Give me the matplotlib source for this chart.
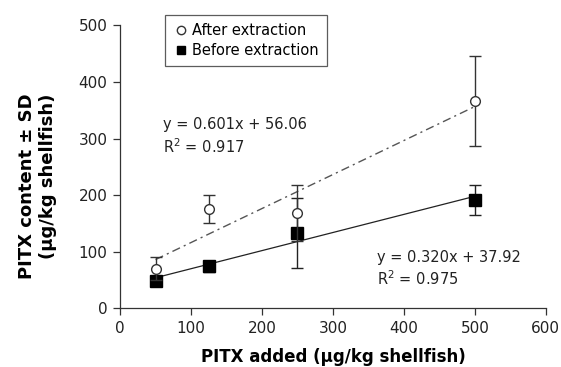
import numpy as np
import matplotlib.pyplot as plt
from matplotlib.lines import Line2D

plt.rcParams["font.family"] = ["DejaVu Sans"]

# PITX recovery data (ug/kg shellfish)
added = np.array([50, 125, 250, 500])
after_mean = np.array([70, 176, 168, 366])
after_sd = np.array([20, 25, 49, 79])
before_mean = np.array([48, 74, 133, 191])
before_sd = np.array([8, 10, 62, 27])

# linear fits as reported
after_fit = (0.601, 56.06, 0.917)
before_fit = (0.320, 37.92, 0.975)

fontsize = 10.5

fig = plt.figure(figsize=(5.61, 3.67), dpi=100)
ax = fig.add_axes([0.214, 0.160, 0.759, 0.771])

xfit = np.array([added.min(), added.max()])
ax.plot(xfit, after_fit[0] * xfit + after_fit[1], color="#555555",
        ls=(0, (6, 3, 1.5, 3)), lw=1.0, zorder=1)
ax.plot(xfit, before_fit[0] * xfit + before_fit[1], color="#222222",
        ls="-", lw=0.9, zorder=1)

ax.errorbar(added, after_mean, yerr=after_sd, fmt="o", mfc="white",
            mec="#333333", ms=7, mew=1.0, ecolor="#333333", elinewidth=1.0,
            capsize=4, capthick=1.0, zorder=3)
ax.errorbar(added, before_mean, yerr=before_sd, fmt="s", mfc="black",
            mec="black", ms=8, ecolor="#222222", elinewidth=1.0,
            capsize=4, capthick=1.0, zorder=2)

ax.text(60, 324, "y = {:.3f}x + {:.2f}".format(*after_fit[:2]),
        fontsize=fontsize, va="center", color="#222222")
ax.text(60, 285, "R$^{{2}}$ = {:.3f}".format(after_fit[2]),
        fontsize=fontsize, va="center", color="#222222")
ax.text(362, 89, "y = {:.3f}x + {:.2f}".format(*before_fit[:2]),
        fontsize=fontsize, va="center", color="#222222")
ax.text(362, 52, "R$^{{2}}$ = {:.3f}".format(before_fit[2]),
        fontsize=fontsize, va="center", color="#222222")

ax.set_xlim(0, 600)
ax.set_ylim(0, 500)
ax.set_xticks(range(0, 601, 100))
ax.set_yticks(range(0, 501, 100))
ax.tick_params(direction="out", length=5, width=0.9, colors="#333333",
               labelsize=11, labelcolor="#222222", pad=4)
for side in ["top", "right"]:
    ax.spines[side].set_visible(False)
for side in ["left", "bottom"]:
    ax.spines[side].set_color("#333333")
    ax.spines[side].set_linewidth(0.9)

ax.set_xlabel("PITX added (\u03bcg/kg shellfish)", fontsize=12,
              fontweight="bold", labelpad=9)
ax.set_ylabel("PITX content \u00b1 SD\n(\u03bcg/kg shellfish)", fontsize=13,
              fontweight="bold", linespacing=1.25, multialignment="right")
ax.yaxis.set_label_coords(-0.148, 0.43)

handles = [
    Line2D([], [], ls="none", marker="o", mfc="white", mec="#333333",
           ms=6, mew=1.0),
    Line2D([], [], ls="none", marker="s", mfc="black", mec="black", ms=6),
]
leg = ax.legend(handles, ["After extraction", "Before extraction"],
                loc="upper left", bbox_to_anchor=(0.106, 1.035),
                fontsize=fontsize, frameon=True, fancybox=False,
                handletextpad=0.3, handlelength=1.0, borderpad=0.55,
                labelspacing=0.3, borderaxespad=0)
leg.get_frame().set_edgecolor("#333333")
leg.get_frame().set_linewidth(0.9)

fig.savefig("out.png", dpi=100)
